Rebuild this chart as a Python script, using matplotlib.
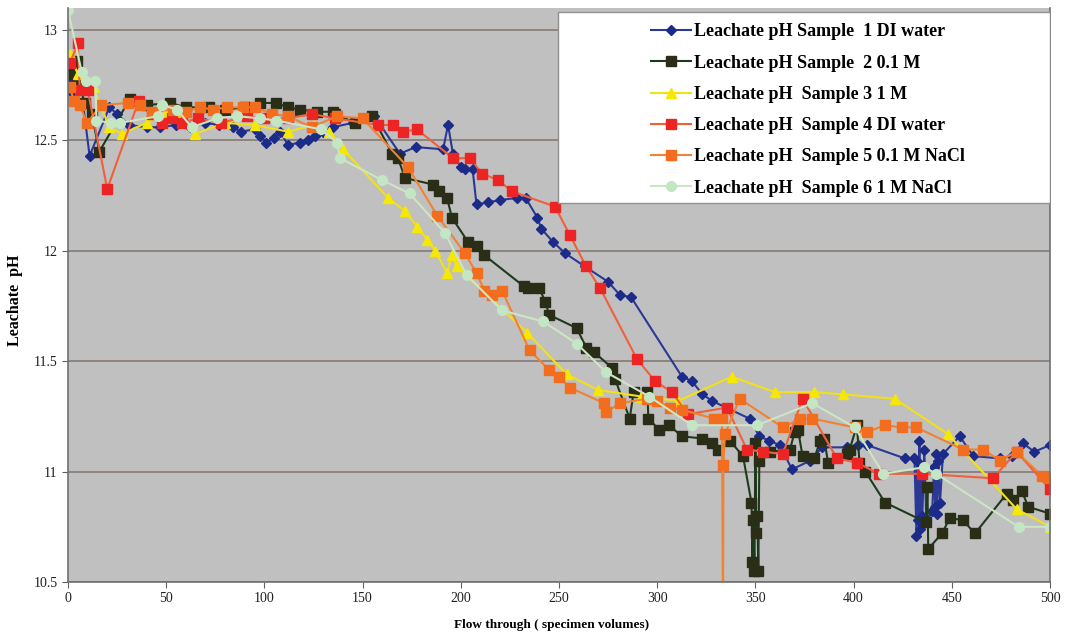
import matplotlib
matplotlib.use("Agg")
import matplotlib.pyplot as plt
from matplotlib.patches import Rectangle

plt.rcParams['font.family'] = ['Liberation Serif', 'DejaVu Serif']

# ---- data (flow through in specimen volumes, leachate pH) ----
s1_points = [(1,12.77),(2.5,12.71),(7.6,12.67),(11,12.43),(21,12.65),(25,12.62),(31,12.57),(40,12.56),(47,12.56),(55,12.57),(62,12.56),(70,12.58),(77,12.57),(84,12.56),(88,12.54),(95,12.55),(98,12.52),(101,12.49),(105,12.51),(108,12.54),(112,12.48),(118,12.49),(122,12.50),(126,12.52),(130,12.54),(135,12.56),(145,12.58),(156,12.61),(169,12.44),(177,12.47),(191,12.46),(193.5,12.57),(196,12.44),(200,12.38),(202,12.37),(206,12.37),(208,12.21),(214,12.22),(220,12.23),(228.6,12.24),(233,12.24),(239,12.15),(241,12.10),(247,12.04),(253,11.99),(263,11.93),(275,11.86),(281,11.80),(286.7,11.79),(312.6,11.43),(317.7,11.41),(323,11.35),(328,11.32),(347,11.24),(352,11.16),(357,11.14),(362.5,11.12),(368.6,11.01),(378,11.05),(384,11.11),(396.6,11.11),(402,11.12),(407,11.12),(426,11.06),(431,11.06),(432,10.71),(432.5,11.05),(433,10.78),(433.5,11.14),(434,10.74),(434.5,11.02),(435,10.80),(436,11.10),(437,10.77),(440,10.82),(441,11.02),(441.5,10.84),(442,11.08),(442.5,10.81),(443,11.05),(444,10.86),(445.5,11.08),(454,11.16),(461,11.07),(474.5,11.06),(480.6,11.07),(486,11.13),(492,11.09),(500,11.12)]

s2_points = [(0,12.80),(2,12.82),(4.5,12.86),(5,12.77),(8.6,12.67),(12,12.62),(16,12.45),(31.6,12.69),(40,12.66),(52,12.67),(60,12.65),(72,12.65),(80,12.64),(90,12.65),(98,12.67),(106,12.67),(112,12.65),(118,12.64),(127,12.63),(135,12.63),(136,12.62),(146,12.58),(155,12.61),(165,12.44),(168,12.42),(171.6,12.33),(186,12.30),(189,12.27),(193,12.24),(195.5,12.15),(203.7,12.04),(208,12.02),(212,11.98),(232,11.84),(234,11.83),(240,11.83),(243,11.77),(245,11.71),(259,11.65),(264,11.56),(268,11.54),(277,11.47),(278.5,11.42),(286,11.24),(288,11.36),(295,11.36),(295.5,11.24),(301,11.19),(306,11.21),(312.6,11.16),(323,11.15),(328,11.13),(331,11.10),(337,11.14),(343.7,11.07),(348,10.86),(348.5,10.59),(349,10.78),(349.5,10.55),(350,11.13),(350.5,10.72),(351,10.80),(351.5,10.55),(352,11.05),(357.5,11.09),(367.6,11.10),(370,11.18),(371.7,11.19),(374,11.07),(380,11.06),(383,11.14),(385,11.15),(387,11.04),(396.6,11.08),(398,11.10),(401.7,11.21),(403,11.04),(406,11.00),(416,10.86),(437,10.77),(437.6,10.93),(438,10.65),(445,10.72),(449,10.79),(455.6,10.78),(461.8,10.72),(478,10.90),(481,10.87),(485.7,10.91),(489,10.84),(500,10.81)]

s3_points = [(1,12.89),(5,12.80),(13,12.74),(21,12.56),(27.5,12.53),(40,12.58),(50,12.63),(58,12.60),(64.7,12.53),(80,12.58),(95,12.57),(112,12.54),(125,12.57),(133,12.54),(140,12.46),(163,12.24),(171.6,12.18),(177.7,12.11),(183,12.05),(187,12.00),(193,11.90),(195.5,11.98),(198,11.93),(233.7,11.63),(254,11.44),(270,11.37),(292,11.34),(310.6,11.32),(338,11.43),(360,11.36),(380,11.36),(394.6,11.35),(421,11.33),(448,11.17),(483,10.83),(500,10.75)]

s4_points = [(1,12.85),(5,12.94),(6,12.73),(10,12.73),(20,12.28),(36,12.68),(43,12.62),(48,12.58),(53,12.60),(58,12.58),(66,12.60),(78,12.58),(91,12.61),(100,12.60),(112,12.60),(124,12.62),(136,12.60),(158,12.57),(165.5,12.57),(170.6,12.54),(177.7,12.55),(196,12.42),(204.7,12.42),(210.8,12.35),(219,12.32),(226,12.27),(248,12.20),(255.6,12.07),(263.8,11.93),(271,11.83),(289.7,11.51),(298.9,11.41),(307.5,11.36),(315.7,11.26),(335.5,11.29),(345.7,11.10),(354,11.09),(364,11.08),(374,11.33),(391.5,11.06),(401.7,11.04),(413,10.99),(435,10.99),(471,10.97),(483,11.09),(500,10.92)]

s5_points = [(1,12.74),(3,12.68),(6,12.66),(9.7,12.58),(17,12.66),(30.5,12.67),(36.6,12.66),(43,12.63),(53.5,12.64),(60,12.63),(67,12.65),(74,12.64),(81,12.65),(89,12.65),(95,12.65),(104,12.62),(112,12.61),(124,12.56),(137,12.61),(150,12.60),(173,12.38),(188,12.16),(202,11.99),(208,11.90),(212,11.82),(216,11.80),(221,11.82),(235,11.55),(245,11.46),(250,11.43),(255.6,11.38),(273,11.31),(274,11.27),(281,11.31),(295,11.33),(300,11.32),(306.5,11.29),(312.6,11.28),(329,11.24),(333,11.24),(333.5,10.30),(333.7,11.03),(334.5,11.17),(342,11.33),(364,11.20),(372.7,11.24),(379,11.24),(400.7,11.20),(407,11.18),(416,11.21),(424.6,11.20),(432,11.20),(455.7,11.10),(466,11.10),(474.5,11.05),(483,11.09),(496,10.98),(500,10.97)]

s6_points = [(0,13.09),(7,12.81),(9,12.77),(14,12.77),(14.5,12.59),(22,12.58),(26.5,12.58),(46,12.61),(48,12.66),(55.5,12.64),(63,12.56),(76,12.60),(86,12.61),(98,12.60),(106,12.59),(129,12.55),(137,12.49),(138.5,12.42),(160,12.32),(174,12.26),(192,12.08),(203,11.89),(221,11.73),(242,11.68),(259,11.58),(274,11.45),(296,11.34),(317.7,11.21),(350.8,11.21),(379,11.31),(400.7,11.20),(415,10.99),(436,11.02),(442,10.99),(484,10.75),(500,10.75)]

labels = ["Leachate pH Sample  1 DI water",
          "Leachate pH Sample  2 0.1 M",
          "Leachate pH  Sample 3 1 M",
          "Leachate pH  Sample 4 DI water",
          "Leachate pH  Sample 5 0.1 M NaCl",
          "Leachate pH  Sample 6 1 M NaCl"]

x_ticks = [0, 50, 100, 150, 200, 250, 300, 350, 400, 450, 500]
y_ticks = [10.5, 11, 11.5, 12, 12.5, 13]
y_tick_labels = ["10.5", "11", "11.5", "12", "12.5", "13"]

# ---- styles ----
styles = [
    dict(color='#2a3896', marker='D', markersize=5.5, mfc='#1c2a88', mec='#1c2a88'),
    dict(color='#1e3a1e', marker='s', markersize=7.5, mfc='#2a2e16', mec='#2a2e16'),
    dict(color='#f2e01a', marker='^', markersize=7.5, mfc='#f6e800', mec='#f6e800'),
    dict(color='#f0603c', marker='s', markersize=7, mfc='#ec2424', mec='#ec2424'),
    dict(color='#f08232', marker='s', markersize=7.5, mfc='#f26e1e', mec='#f26e1e'),
    dict(color='#cce6c4', marker='o', markersize=7, mfc='#c4e6c4', mec='#c4e6c4'),
]

fig = plt.figure(figsize=(10.67, 6.34), dpi=100)
ax = fig.add_axes([68/1067, 1 - 582/634, 982/1067, 574/634])
ax.set_facecolor('#c0c0c0')

all_series = [s1_points, s2_points, s3_points, s4_points, s5_points, s6_points]
handles = []
for pts, st, lab in zip(all_series, styles, labels):
    xs = [p[0] for p in pts]
    ys = [p[1] for p in pts]
    h, = ax.plot(xs, ys, linewidth=1.5, label=lab, **st)
    handles.append(h)

ax.set_xlim(0, 500)
ax.set_ylim(10.5, 13.1)
ax.set_xticks(x_ticks)
ax.set_xticklabels([str(t) for t in x_ticks])
ax.set_yticks(y_ticks)
ax.set_yticklabels(y_tick_labels)
ax.tick_params(axis='both', labelsize=10, direction='out', length=4, color='#606060', labelcolor='#202020')
ax.yaxis.grid(True, color='#857a75', linewidth=1.2)
ax.set_axisbelow(True)
ax.spines['top'].set_visible(False)
for s in ['left', 'bottom', 'right']:
    ax.spines[s].set_color('#707070')
    ax.spines[s].set_linewidth(1.2)

fig.text(552/1067, 1 - 625/634, "Flow through ( specimen volumes)", fontsize=9.5, fontweight='bold',
         ha='center', va='center')
fig.text(15/1067, 1 - 300/634, "Leachate  pH", fontsize=11.5, fontweight='bold',
         ha='center', va='center', rotation=90)

# legend box
box = Rectangle((0.499, 0.66), 0.501, 0.333, transform=ax.transAxes, facecolor='white',
                edgecolor='#909090', linewidth=1.0, zorder=5)
ax.add_patch(box)
leg = ax.legend(handles=handles, loc='upper left', bbox_to_anchor=(0.583, 0.992),
                frameon=False, prop=dict(family='Liberation Serif', weight='bold', size=13),
                handlelength=2.2, labelspacing=0.79, handletextpad=0.15, borderaxespad=0.2)
leg.set_zorder(6)

fig.savefig("out.png", dpi=100)
